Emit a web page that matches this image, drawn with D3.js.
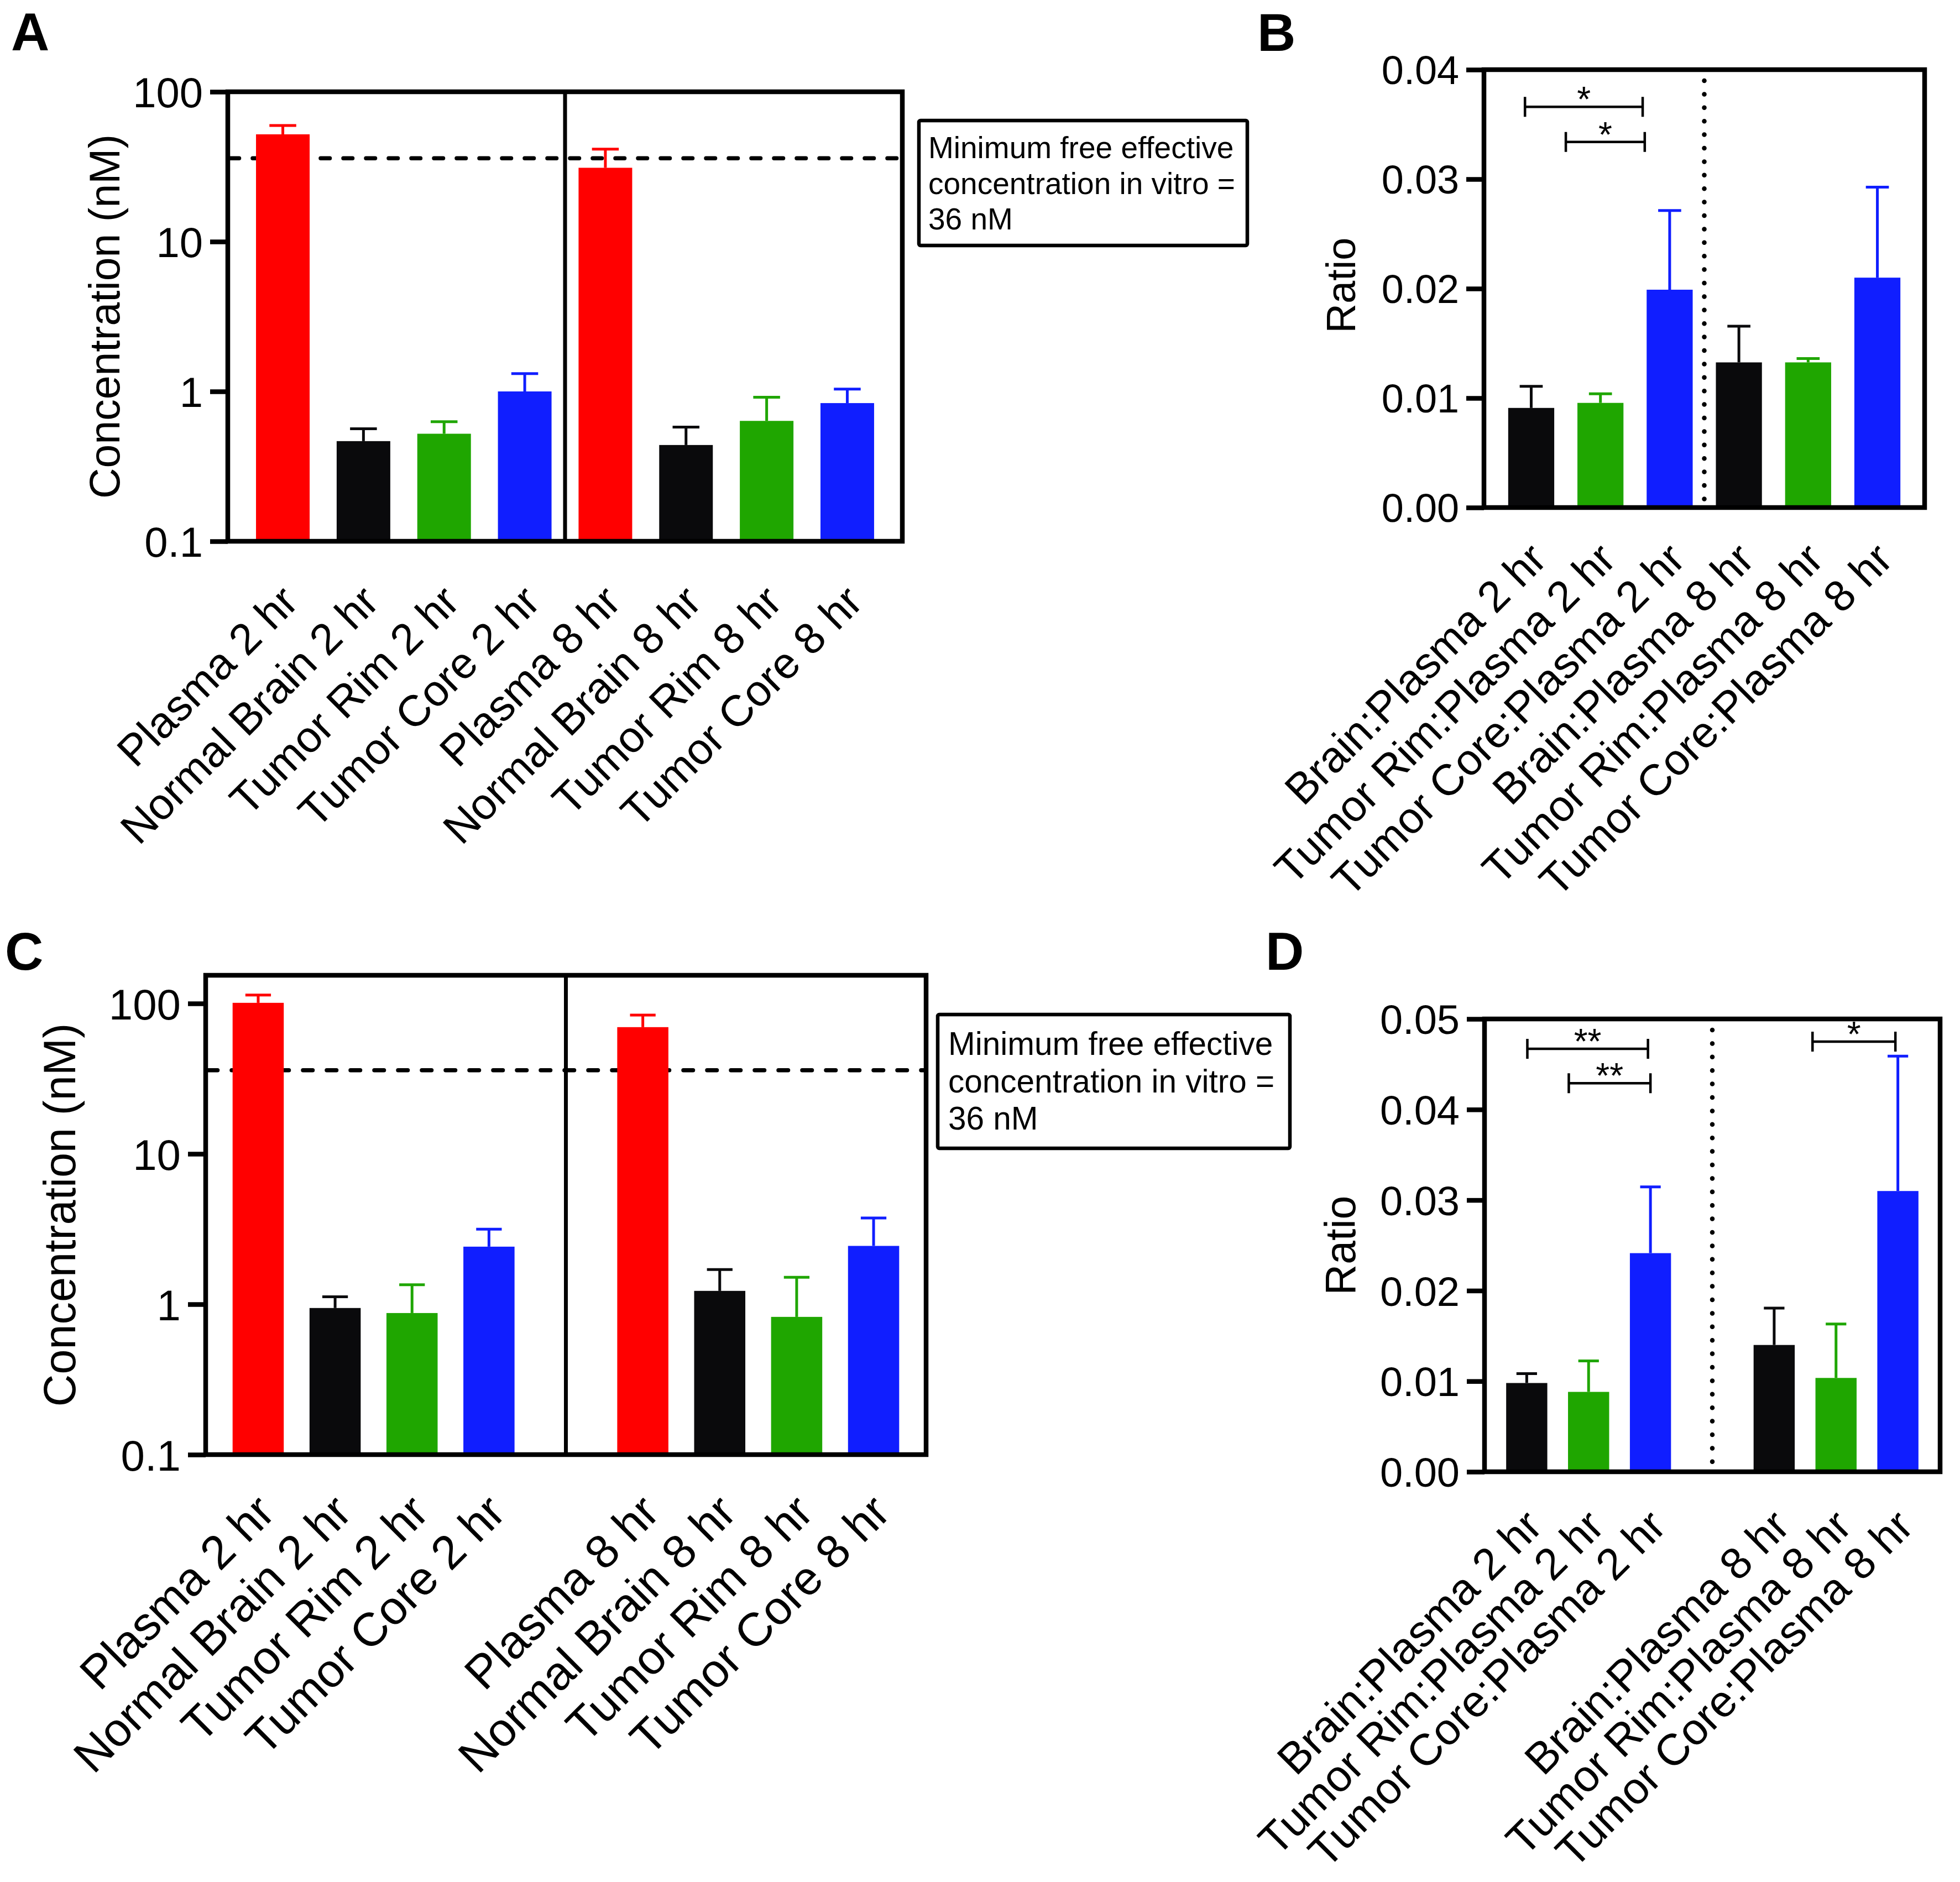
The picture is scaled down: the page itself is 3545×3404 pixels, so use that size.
<!DOCTYPE html>
<html>
<head>
<meta charset="utf-8">
<script src="https://cdn.jsdelivr.net/npm/d3@7"></script>
<style>
  body { margin: 0; background: #fff; }
  text { font-family: "Liberation Sans", Arial, sans-serif; fill: #000; }
</style>
</head>
<body>
<div id="chart"></div>
<script>
// ---- data ----
const concCategories = ['Plasma 2 hr', 'Normal Brain 2 hr', 'Tumor Rim 2 hr', 'Tumor Core 2 hr',
    'Plasma 8 hr', 'Normal Brain 8 hr', 'Tumor Rim 8 hr', 'Tumor Core 8 hr'];
const ratioCategories = ['Brain:Plasma 2 hr', 'Tumor Rim:Plasma 2 hr', 'Tumor Core:Plasma 2 hr',
    'Brain:Plasma 8 hr', 'Tumor Rim:Plasma 8 hr', 'Tumor Core:Plasma 8 hr'];

// panel A: concentration (nM), mean and upper error
const aMeans = [52, 0.466, 0.522, 1.0, 31.1, 0.439, 0.636, 0.836];
const aErrors = [7.5, 0.098, 0.106, 0.315, 10.3, 0.139, 0.278, 0.2];
// panel B: ratio
const bMeans = [0.0091, 0.00956, 0.0199, 0.01326, 0.01326, 0.021];
const bErrors = [0.00197, 0.00083, 0.00724, 0.00331, 0.00035, 0.00827];
// panel C: concentration (nM)
const cMeans = [101, 0.944, 0.874, 2.415, 69.6, 1.227, 0.824, 2.443];
const cErrors = [12.9, 0.178, 0.475, 0.74, 14.1, 0.474, 0.687, 1.305];
// panel D: ratio
const dMeans = [0.0098, 0.00882, 0.02414, 0.014, 0.01036, 0.031];
const dErrors = [0.00103, 0.00342, 0.00732, 0.00407, 0.00595, 0.0149];

const concTicks = [0.1, 1, 10, 100];
const bTicks = [0, 0.01, 0.02, 0.03, 0.04];
const dTicks = [0, 0.01, 0.02, 0.03, 0.04, 0.05];

const threshold = 36; // minimum free effective concentration, nM
const boxLines = ['Minimum free effective', 'concentration in vitro =', '36 nM'];

// significance brackets: from/to in slot units, level in data units
const bBrackets = [
    { from: -0.09, to: 1.61, level: 0.0366, label: '*' },
    { from: 0.5, to: 1.64, level: 0.0334, label: '*' }
];
const dBrackets = [
    { from: 0.01, to: 1.96, level: 0.0467, label: '**' },
    { from: 0.68, to: 2.0, level: 0.0429, label: '**' },
    { from: 4.62, to: 5.96, level: 0.0475, label: '*' }
];

const RED = '#ff0000', BLACK = '#0a0a0c', GREEN = '#1fa600', BLUE = '#101eff';
const concColors = [RED, BLACK, GREEN, BLUE, RED, BLACK, GREEN, BLUE];
const ratioColors = [BLACK, GREEN, BLUE, BLACK, GREEN, BLUE];

// ---- drawing ----
const svg = d3.select('#chart').append('svg')
    .attr('width', 3545)
    .attr('height', 3404)
    .style('background', '#fff');
svg.append('rect').attr('width', 3545).attr('height', 3404).attr('fill', '#fff');

function drawPanel(p) {
    const g = svg.append('g');
    const slots = p.gapAfter != null
        ? [...p.categories.slice(0, p.gapAfter), '__gap', ...p.categories.slice(p.gapAfter)]
        : p.categories;
    const x = d3.scaleBand()
        .domain(slots)
        .range([p.left, p.right])
        .paddingInner(0.335)
        .paddingOuter(0.35);
    const bw = x.bandwidth();
    const slotX = d3.scaleLinear()
        .domain([0, slots.length - 1])
        .range([x(slots[0]) + bw / 2, x(slots[slots.length - 1]) + bw / 2]);
    const y = (p.log ? d3.scaleLog() : d3.scaleLinear())
        .domain(p.yDomain)
        .range([p.bottom, p.top]);

    // threshold line (behind bars)
    if (p.threshold) {
        const sw = 7.5;
        g.append('line')
            .attr('x1', p.left + 4).attr('x2', p.right - 4)
            .attr('y1', y(p.threshold)).attr('y2', y(p.threshold))
            .attr('stroke', '#000')
            .attr('stroke-width', sw)
            .attr('stroke-linecap', 'round')
            .attr('stroke-dasharray', `${p.dash[0] - sw} ${p.dash[1] + sw}`);
    }

    const rows = p.categories.map((c, i) => ({ c, m: p.means[i], e: p.errors[i], col: p.colors[i] }));

    g.selectAll('.bar')
        .data(rows)
        .enter()
        .append('rect')
        .attr('x', d => x(d.c))
        .attr('y', d => y(d.m))
        .attr('width', bw)
        .attr('height', d => p.bottom - y(d.m))
        .attr('fill', d => d.col);

    // error bars (upper only)
    g.selectAll('.err')
        .data(rows)
        .enter()
        .append('line')
        .attr('x1', d => x(d.c) + bw / 2).attr('x2', d => x(d.c) + bw / 2)
        .attr('y1', d => y(d.m)).attr('y2', d => y(d.m + d.e))
        .attr('stroke', d => d.col)
        .attr('stroke-width', 5);
    g.selectAll('.cap')
        .data(rows)
        .enter()
        .append('line')
        .attr('x1', d => x(d.c) + bw / 4).attr('x2', d => x(d.c) + bw * 3 / 4)
        .attr('y1', d => y(d.m + d.e)).attr('y2', d => y(d.m + d.e))
        .attr('stroke', d => d.col)
        .attr('stroke-width', 5);

    // divider between time points
    let divX;
    if (p.gapAfter != null) divX = x('__gap') + bw / 2;
    else {
        const k = p.categories.length / 2;
        divX = (x(p.categories[k - 1]) + bw + x(p.categories[k])) / 2;
    }
    if (p.dotted) {
        g.append('line')
            .attr('x1', divX).attr('x2', divX)
            .attr('y1', p.top + 20).attr('y2', p.bottom - 8)
            .attr('stroke', '#000')
            .attr('stroke-width', 8.5)
            .attr('stroke-linecap', 'round')
            .attr('stroke-dasharray', '0 24.4');
    } else {
        g.append('line')
            .attr('x1', divX).attr('x2', divX)
            .attr('y1', p.top).attr('y2', p.bottom)
            .attr('stroke', '#000')
            .attr('stroke-width', 7);
    }

    // frame
    g.append('rect')
        .attr('x', p.left).attr('y', p.top)
        .attr('width', p.right - p.left).attr('height', p.bottom - p.top)
        .attr('fill', 'none')
        .attr('stroke', '#000')
        .attr('stroke-width', 8.5);

    // y axis
    const axis = g.append('g')
        .attr('transform', `translate(${p.left}, 0)`)
        .call(d3.axisLeft(y)
            .tickValues(p.ticks)
            .tickSize(32)
            .tickPadding(13)
            .tickFormat(p.tickFormat));
    axis.select('.domain').remove();
    axis.selectAll('.tick line').attr('stroke', '#000').attr('stroke-width', 8.5);
    axis.selectAll('.tick text')
        .attr('font-family', '"Liberation Sans", Arial, sans-serif')
        .attr('font-size', p.tickSize)
        .attr('fill', '#000')
        .attr('dy', '0.36em');
    axis.attr('font-family', null);

    // y title
    g.append('text')
        .attr('transform', `translate(${p.titleX}, ${(p.top + p.bottom) / 2 + (p.titleShift || 0)}) rotate(-90)`)
        .attr('text-anchor', 'middle')
        .attr('font-size', p.titleSize)
        .text(p.title);

    // rotated category labels
    const F = p.labelSize;
    g.selectAll('.xl')
        .data(p.categories)
        .enter()
        .append('text')
        .attr('transform', c => `translate(${x(c) + bw / 2 + 0.4 * F}, ${p.bottom + p.labelDy}) rotate(-45)`)
        .attr('text-anchor', 'end')
        .attr('font-size', F)
        .text(c => c);

    // significance brackets
    (p.brackets || []).forEach(b => {
        const x1 = slotX(b.from), x2 = slotX(b.to), yy = y(b.level);
        g.append('path')
            .attr('d', `M${x1},${yy - 18}V${yy + 18}M${x1},${yy}H${x2}M${x2},${yy - 18}V${yy + 18}`)
            .attr('fill', 'none')
            .attr('stroke', '#000')
            .attr('stroke-width', 4.5);
        g.append('text')
            .attr('x', (x1 + x2) / 2)
            .attr('y', yy + 9)
            .attr('text-anchor', 'middle')
            .attr('font-size', 64)
            .text(b.label);
    });

    // text box
    if (p.box) {
        const bx = p.box;
        g.append('rect')
            .attr('x', bx.x).attr('y', bx.y)
            .attr('width', bx.w).attr('height', bx.h)
            .attr('rx', 3)
            .attr('fill', '#fff')
            .attr('stroke', '#000')
            .attr('stroke-width', 6.5);
        g.selectAll('.bl')
            .data(boxLines)
            .enter()
            .append('text')
            .attr('x', bx.tx)
            .attr('y', (d, i) => bx.ty + i * bx.lh)
            .attr('font-size', bx.fs)
            .text(d => d);
    }

    // panel letter
    svg.append('text')
        .attr('x', p.letterX).attr('y', p.letterY)
        .attr('font-size', 96)
        .attr('font-weight', 'bold')
        .text(p.letter);
}

drawPanel({
    letter: 'A', letterX: 20, letterY: 91,
    categories: concCategories, means: aMeans, errors: aErrors, colors: concColors,
    left: 412, right: 1632, top: 166, bottom: 979,
    log: true, yDomain: [0.1, 100], ticks: concTicks, tickFormat: d => String(d), tickSize: 76,
    title: 'Concentration (nM)', titleX: 216, titleSize: 77,
    labelSize: 79, labelDy: 114,
    threshold: threshold, dash: [24, 17],
    box: { x: 1662, y: 218, w: 594, h: 226, tx: 1679, ty: 286, lh: 64.5, fs: 55 }
});

drawPanel({
    letter: 'B', letterX: 2274, letterY: 92,
    categories: ratioCategories, means: bMeans, errors: bErrors, colors: ratioColors,
    left: 2684, right: 3481, top: 126, bottom: 918,
    log: false, yDomain: [0, 0.04], ticks: bTicks, tickFormat: d3.format('.2f'), tickSize: 72,
    title: 'Ratio', titleX: 2451, titleSize: 74, titleShift: -6,
    labelSize: 79, labelDy: 98,
    dotted: true,
    brackets: bBrackets
});

drawPanel({
    letter: 'C', letterX: 9, letterY: 1754,
    categories: concCategories, means: cMeans, errors: cErrors, colors: concColors,
    gapAfter: 4,
    left: 372, right: 1675, top: 1764, bottom: 2631,
    log: true, yDomain: [0.1, 154], ticks: concTicks, tickFormat: d => String(d), tickSize: 78,
    title: 'Concentration (nM)', titleX: 136, titleSize: 81,
    labelSize: 85, labelDy: 109,
    threshold: threshold, dash: [25, 18],
    box: { x: 1696, y: 1835, w: 637, h: 242, tx: 1715, ty: 1908, lh: 67.5, fs: 58.5 }
});

drawPanel({
    letter: 'D', letterX: 2289, letterY: 1754,
    categories: ratioCategories, means: dMeans, errors: dErrors, colors: ratioColors,
    gapAfter: 3,
    left: 2685, right: 3509, top: 1843, bottom: 2662,
    log: false, yDomain: [0, 0.05], ticks: dTicks, tickFormat: d3.format('.2f'), tickSize: 74,
    title: 'Ratio', titleX: 2451, titleSize: 77,
    labelSize: 80, labelDy: 103,
    dotted: true,
    brackets: dBrackets
});
</script>
</body>
</html>
